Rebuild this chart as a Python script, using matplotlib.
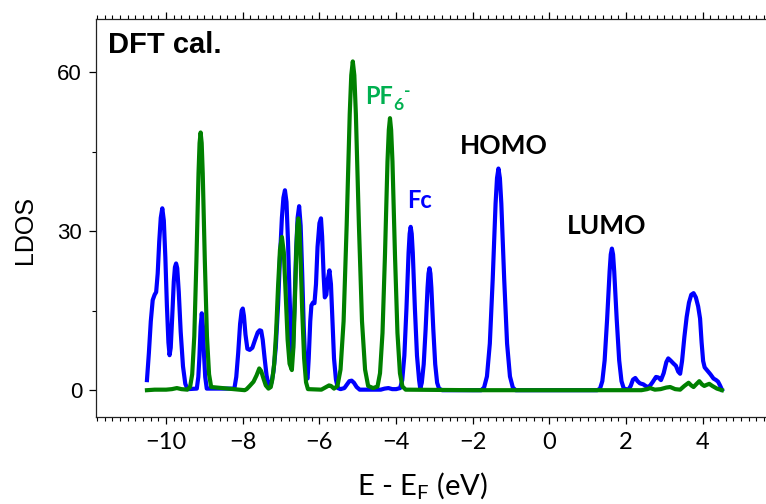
import matplotlib
matplotlib.use('Agg')
import matplotlib.pyplot as plt
from matplotlib.ticker import MultipleLocator

# Fc (blue) LDOS
fc_e = [-10.50, -10.45, -10.40, -10.35, -10.30, -10.26, -10.22, -10.18, -10.14, -10.10,
        -10.06, -10.02, -9.98, -9.94, -9.91, -9.88, -9.84, -9.80, -9.77, -9.74,
        -9.71, -9.67, -9.62, -9.56, -9.50, -9.44, -9.20, -9.16, -9.13, -9.10,
        -9.07, -9.04, -9.01, -8.98, -8.94, -8.22, -8.17, -8.12, -8.07, -8.03,
        -8.00, -7.97, -7.93, -7.88, -7.82, -7.75, -7.68, -7.61, -7.56, -7.52,
        -7.48, -7.43, -7.38, -7.33, -7.29, -7.25, -7.20, -7.14, -7.08, -7.03,
        -6.98, -6.94, -6.90, -6.86, -6.82, -6.78, -6.74, -6.72, -6.69, -6.65,
        -6.61, -6.57, -6.53, -6.49, -6.45, -6.41, -6.37, -6.33, -6.31, -6.28,
        -6.24, -6.21, -6.17, -6.13, -6.09, -6.05, -6.00, -5.96, -5.93, -5.89,
        -5.86, -5.82, -5.78, -5.74, -5.70, -5.66, -5.62, -5.57, -5.52, -5.45,
        -5.35, -5.28, -5.22, -5.16, -5.10, -5.03, -4.95, -4.40, -4.30, -4.20,
        -4.10, -4.00, -3.895, -3.84, -3.785, -3.73, -3.675, -3.647, -3.62, -3.593,
        -3.565, -3.51, -3.455, -3.40, -3.37, -3.33, -3.28, -3.23, -3.18, -3.155,
        -3.13, -3.105, -3.08, -3.03, -2.98, -2.93, -2.88, -2.80, -1.78, -1.705,
        -1.63, -1.555, -1.48, -1.405, -1.3675, -1.33, -1.2925, -1.255, -1.18, -1.105,
        -1.03, -0.955, -0.88, 1.25, 1.32, 1.38, 1.44, 1.505, 1.57, 1.60,
        1.63, 1.66, 1.69, 1.755, 1.82, 1.88, 1.94, 2.06, 2.12, 2.18,
        2.24, 2.30, 2.36, 2.45, 2.55, 2.62, 2.70, 2.78, 2.84, 2.91,
        2.98, 3.05, 3.10, 3.16, 3.24, 3.30, 3.36, 3.41, 3.46, 3.52,
        3.58, 3.64, 3.70, 3.76, 3.82, 3.88, 3.93, 3.97, 4.01, 4.05,
        4.12, 4.20, 4.28, 4.35, 4.40, 4.45, 4.50]
fc_dos = [1.9, 7.0, 13.0, 17.0, 18.0, 18.5, 22.0, 28.0, 32.5, 34.3,
          32.0, 25.0, 16.0, 9.0, 6.6, 8.0, 14.0, 20.5, 23.2, 23.9,
          23.0, 18.5, 11.0, 4.5, 1.2, 0.2, 0.3, 2.5, 6.5, 12.0,
          14.5, 12.0, 6.5, 2.5, 0.3, 0.3, 2.5, 7.0, 12.5, 15.0,
          15.4, 14.0, 10.5, 7.8, 7.6, 8.0, 9.5, 10.9, 11.3, 11.2,
          9.5, 6.0, 2.8, 1.0, 0.6, 1.5, 3.5, 8.0, 16.0, 25.0,
          32.5, 36.3, 37.7, 35.5, 28.0, 18.0, 9.0, 6.3, 8.0, 16.0,
          26.0, 32.5, 34.7, 31.0, 22.0, 12.0, 5.0, 2.4, 2.2, 6.0,
          13.0, 16.0, 16.5, 16.4, 20.0, 27.0, 31.5, 32.4, 29.0, 21.5,
          17.5, 18.0, 21.0, 22.6, 20.0, 13.0, 6.0, 2.0, 0.4, 0.2,
          0.4, 1.1, 1.7, 1.8, 1.4, 0.6, 0.1, 0.1, 0.3, 0.4,
          0.2, 0.2, 0.4, 1.9, 6.5, 15.4, 25.9, 29.5, 30.8, 29.5,
          25.9, 15.4, 6.5, 1.9, 0.3, 1.4, 4.9, 11.5, 19.3, 22.0,
          23.0, 22.0, 19.3, 11.5, 4.9, 1.4, 0.3, 0.0, 0.0, 0.5,
          2.6, 8.8, 20.9, 35.2, 40.0, 41.8, 40.0, 35.2, 20.9, 8.8,
          2.6, 0.5, 0.0, 0.0, 0.3, 1.7, 5.6, 13.4, 22.4, 25.6,
          26.7, 25.6, 22.4, 13.4, 5.6, 1.7, 0.3, 0.1, 0.8, 2.0,
          2.3, 1.7, 1.3, 1.1, 0.6, 0.8, 1.6, 2.5, 2.4, 1.9,
          3.2, 5.3, 6.0, 5.6, 5.0, 4.6, 3.5, 3.1, 5.5, 10.0,
          13.8, 16.5, 18.0, 18.3, 17.5, 15.8, 13.5, 9.0, 5.5, 4.3,
          3.7, 3.0, 2.2, 1.9, 1.6, 0.9, 0.1]

# PF6- (green) LDOS
pf_e = [-10.50, -10.30, -10.00, -9.85, -9.72, -9.60, -9.45, -9.375, -9.32, -9.265,
        -9.21, -9.155, -9.1275, -9.10, -9.0725, -9.045, -8.99, -8.935, -8.88, -8.825,
        -7.95, -7.90, -7.82, -7.72, -7.64, -7.57, -7.52, -7.46, -7.40, -7.33,
        -7.27, -7.23, -7.18, -7.13, -7.08, -7.03, -6.98, -6.93, -6.88, -6.83,
        -6.78, -6.72, -6.68, -6.64, -6.60, -6.575, -6.55, -6.525, -6.50, -6.45,
        -6.40, -6.35, -6.30, -5.95, -5.85, -5.75, -5.70, -5.62, -5.53, -5.45,
        -5.37, -5.29, -5.21, -5.17, -5.13, -5.09, -5.05, -4.97, -4.89, -4.81,
        -4.73, -4.60, -4.485, -4.42, -4.355, -4.29, -4.225, -4.19, -4.16, -4.13,
        -4.095, -4.03, -3.965, -3.90, -3.835, -3.75, -2.00, 0.00, 2.40, 2.55,
        2.63, 2.75, 2.90, 3.05, 3.15, 3.28, 3.41, 3.52, 3.63, 3.70,
        3.76, 3.84, 3.91, 3.98, 4.04, 4.10, 4.17, 4.25, 4.37, 4.50]
pf_dos = [0.0, 0.1, 0.1, 0.2, 0.4, 0.2, 0.1, 0.6, 3.0, 10.2,
          24.3, 40.9, 46.6, 48.6, 46.6, 40.9, 24.3, 10.2, 3.0, 0.6,
          0.0, 0.2, 0.8, 1.6, 2.8, 4.1, 3.6, 2.2, 0.9, 0.3,
          0.6, 2.0, 5.0, 11.0, 19.5, 26.5, 28.9, 26.0, 18.0, 9.5,
          5.0, 3.8, 8.0, 17.0, 27.0, 31.0, 32.4, 31.0, 26.5, 15.0,
          6.0, 1.5, 0.2, 0.1, 0.5, 0.9, 0.8, 0.3, 0.8, 3.9,
          13.0, 31.0, 52.1, 59.4, 62.0, 59.4, 52.1, 31.0, 13.0, 3.9,
          0.8, 0.4, 0.7, 3.2, 10.8, 25.6, 43.1, 49.1, 51.3, 49.1,
          43.1, 25.6, 10.8, 3.2, 0.7, 0.1, 0.0, 0.0, 0.0, 0.2,
          0.4, 0.1, 0.2, 0.5, 0.6, 0.2, 0.1, 0.8, 1.4, 0.9,
          0.6, 1.2, 1.7, 1.1, 0.8, 1.0, 1.2, 0.8, 0.3, 0.0]

plt.rcParams['mathtext.fontset'] = 'custom'
plt.rcParams['mathtext.rm'] = 'Lato'
plt.rcParams['mathtext.bf'] = 'Lato:bold'

fig = plt.figure(figsize=(7.66, 5.04), dpi=100)
ax = fig.add_axes([0.1253, 0.1732, 0.8747, 0.7891])

ax.plot(fc_e, fc_dos, color='#0000ff', lw=3, solid_joinstyle='round', zorder=2)
ax.plot(pf_e, pf_dos, color='#008000', lw=3, solid_joinstyle='round', zorder=3)

ax.set_xlim(-11.83, 5.65)
ax.set_ylim(-5, 70)

ax.spines['right'].set_visible(False)
for s in ['left', 'bottom', 'top']:
    ax.spines[s].set_linewidth(0.9)
    ax.spines[s].set_color('#222222')

ax.xaxis.set_major_locator(MultipleLocator(2))
ax.xaxis.set_minor_locator(MultipleLocator(0.2))
ax.yaxis.set_major_locator(MultipleLocator(30))
ax.yaxis.set_minor_locator(MultipleLocator(15))
ax.tick_params(axis='x', which='both', direction='out', top=True, bottom=True)
ax.tick_params(axis='x', which='major', length=5, width=0.9, pad=6)
ax.tick_params(axis='x', which='minor', length=3, width=0.8)
ax.tick_params(axis='y', which='major', length=5, width=0.9, pad=5)
ax.tick_params(axis='y', which='minor', length=3, width=0.8)

for lab in ax.get_xticklabels():
    lab.set_fontfamily('Lato')
    lab.set_fontsize(17)
for lab in ax.get_yticklabels():
    lab.set_fontfamily('Liberation Sans')
    lab.set_fontsize(16)

ax.set_xlabel(r'E - E$_\mathrm{F}$ (eV)', fontfamily='Lato', fontsize=21)
ax.xaxis.set_label_coords(0.487, -0.135)
ax.set_ylabel('LDOS', fontfamily='Liberation Sans', fontsize=18)
ax.yaxis.set_label_coords(-0.088, 0.47)

ax.text(0.018, 0.915, 'DFT cal.', transform=ax.transAxes, fontfamily='Liberation Sans',
        fontweight='bold', fontsize=21, va='baseline', ha='left')

# PF6- label: main text, subscript 6, small superscript dash
pf_lbl = ax.text(-4.81, 54.0, 'PF', color='#00b050', fontfamily='Lato',
                 fontweight='bold', fontsize=17, va='baseline', ha='left')
ax.annotate('6', xy=(1, 0), xycoords=pf_lbl, xytext=(0.3, -1.8), textcoords='offset points',
            color='#00b050', fontfamily='Lato', fontweight='bold', fontsize=12.5,
            va='baseline', ha='left')
ax.annotate('-', xy=(1, 0), xycoords=pf_lbl, xytext=(8.3, 8.5), textcoords='offset points',
            color='#00b050', fontfamily='Lato', fontweight='bold', fontsize=12.5,
            va='baseline', ha='left')

ax.text(-3.72, 34.4, 'Fc', color='#0000ff', fontfamily='Lato', fontweight='bold',
        fontsize=17, va='baseline', ha='left')
ax.text(-2.33, 44.5, 'HOMO', color='black', fontfamily='Lato', fontweight='bold',
        fontsize=19, va='baseline', ha='left')
ax.text(0.45, 29.5, 'LUMO', color='black', fontfamily='Lato', fontweight='bold',
        fontsize=19, va='baseline', ha='left')

fig.savefig('out.png', dpi=100)
